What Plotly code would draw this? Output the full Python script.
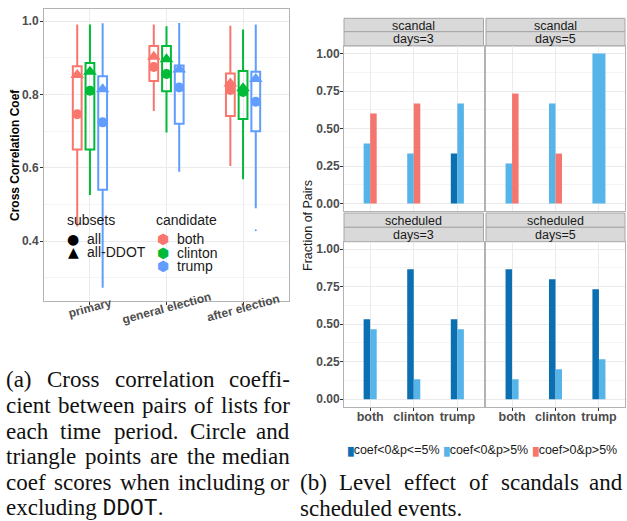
import plotly.graph_objects as go

W, H = 627, 521


def px(x):
    return x / W


def py(y):
    return 1 - y / H


# ---------------- (a) cross correlation data ----------------
periods = ["primary", "general election", "after election"]
candidates = ["both", "clinton", "trump"]
cand_colors = ["#F8766D", "#00BA38", "#619CFF"]
# rows: both, clinton, trump ; columns: primary, general election, after election
whisker_hi = [[0.991, 0.991, 0.987], [0.991, 0.986, 0.977], [0.994, 0.995, 0.991]]
box_hi = [[0.877, 0.932, 0.857], [0.886, 0.932, 0.864], [0.850, 0.879, 0.862]]
box_lo = [[0.650, 0.837, 0.741], [0.650, 0.809, 0.733], [0.540, 0.720, 0.700]]
whisker_lo = [[0.440, 0.755, 0.605], [0.526, 0.696, 0.569], [0.273, 0.589, 0.490]]
median_all = [[0.746, 0.875, 0.812], [0.810, 0.856, 0.807], [0.724, 0.819, 0.780]]
median_all_ddot = [[0.853, 0.903, 0.830], [0.862, 0.896, 0.817], [0.814, 0.868, 0.842]]
outlier_cand = [2]
outlier_period = [2]
outlier_value = [0.430]
a_yticks = [0.4, 0.6, 0.8, 1.0]
a_yticklabels = ["0.4", "0.6", "0.8", "1.0"]

# ---------------- (b) level effect data ----------------
b_cands = ["both", "clinton", "trump"]
b_groups = ["coef<0&p<=5%", "coef<0&p>5%", "coef>0&p>5%"]
b_colors = ["#0b6fb2", "#56b4e8", "#f4766e"]
facet_event = ["scandal", "scandal", "scheduled", "scheduled"]
facet_days = ["days=3", "days=5", "days=3", "days=5"]
scandal3_dark = [0.0, 0.0, 0.333]
scandal3_light = [0.400, 0.333, 0.667]
scandal3_red = [0.600, 0.667, 0.0]
scandal5_dark = [0.0, 0.0, 0.0]
scandal5_light = [0.267, 0.667, 1.000]
scandal5_red = [0.733, 0.333, 0.0]
sched3_dark = [0.533, 0.867, 0.533]
sched3_light = [0.467, 0.133, 0.467]
sched3_red = [0.0, 0.0, 0.0]
sched5_dark = [0.867, 0.800, 0.733]
sched5_light = [0.133, 0.200, 0.267]
sched5_red = [0.0, 0.0, 0.0]
b_yticks = [0.0, 0.25, 0.5, 0.75, 1.0]
b_yticklabels = ["0.00", "0.25", "0.50", "0.75", "1.00"]

fig = go.Figure()

SANS = "Liberation Sans, Arial, sans-serif"
SERIF = "Liberation Serif, Times New Roman, serif"
GRID = "#ebebeb"
MINOR = "#f4f4f4"
BORDER = "#b3b3b3"
TICKC = "#4d4d4d"

# ---------------- (a) boxes ----------------
DODGE = 0.166
for k, cand in enumerate(candidates):
    xs = [i + 1 + (k - 1) * DODGE for i in range(len(periods))]
    col = cand_colors[k]
    fig.add_trace(go.Box(
        x=xs, q1=box_lo[k], median=median_all[k], q3=box_hi[k],
        lowerfence=whisker_lo[k], upperfence=whisker_hi[k],
        width=0.115, whiskerwidth=0, fillcolor="rgba(255,255,255,0)",
        line=dict(color=col, width=2), boxpoints=False,
        xaxis="x", yaxis="y", showlegend=False, hoverinfo="skip"))
for k, cand in enumerate(candidates):
    xs = [i + 1 + (k - 1) * DODGE for i in range(len(periods))]
    col = cand_colors[k]
    fig.add_trace(go.Scatter(
        x=xs, y=median_all_ddot[k], mode="markers",
        marker=dict(symbol="triangle-up", size=12, color=col),
        xaxis="x", yaxis="y", showlegend=False, hoverinfo="skip"))
    fig.add_trace(go.Scatter(
        x=xs, y=median_all[k], mode="markers",
        marker=dict(symbol="circle", size=10, color=col),
        xaxis="x", yaxis="y", showlegend=False, hoverinfo="skip"))
fig.add_trace(go.Scatter(
    x=[p + 1 + (c - 1) * DODGE for c, p in zip(outlier_cand, outlier_period)],
    y=outlier_value, mode="markers",
    marker=dict(size=2, color=[cand_colors[c] for c in outlier_cand]),
    xaxis="x", yaxis="y", showlegend=False, hoverinfo="skip"))

# ---------------- (b) bars ----------------
b_values = [
    [scandal3_dark, scandal5_dark, sched3_dark, sched5_dark],
    [scandal3_light, scandal5_light, sched3_light, sched5_light],
    [scandal3_red, scandal5_red, sched3_red, sched5_red],
]
BARW = 0.3
for f in range(4):
    xs = [[], [], []]
    ys = [[], [], []]
    ws = [[], [], []]
    for i in range(len(b_cands)):
        present = [g for g in range(3) if b_values[g][f][i] > 0]
        n = len(present)
        for r, g in enumerate(present):
            xs[g].append(i + 1 - BARW / 2 + (r + 0.5) * BARW / n)
            ys[g].append(b_values[g][f][i])
            ws[g].append(BARW / n)
    for g in range(3):
        if xs[g]:
            fig.add_trace(go.Bar(
                x=xs[g], y=ys[g], width=ws[g], marker=dict(color=b_colors[g], line=dict(width=0)),
                xaxis=f"x{f + 2}", yaxis=f"y{f + 2}", showlegend=False, hoverinfo="skip"))

# ---------------- axes ----------------
layout = dict(
    width=W, height=H, margin=dict(l=0, r=0, t=0, b=0),
    paper_bgcolor="white", plot_bgcolor="white", barmode="overlay",
    showlegend=False, font=dict(family=SANS, color="#1a1a1a"),
)
layout["xaxis"] = dict(
    domain=[px(44), px(289)], range=[0.4, 3.6], tickvals=[1, 2, 3],
    showticklabels=False, ticks="outside", ticklen=3, tickcolor="#333333",
    showgrid=True, gridcolor=GRID, zeroline=False,
    showline=True, mirror=True, linecolor=BORDER, linewidth=1, anchor="y")
layout["yaxis"] = dict(
    domain=[py(301), py(9)], range=[0.237, 1.033], tickvals=a_yticks, ticktext=a_yticklabels,
    ticks="outside", ticklen=3, tickcolor="#333333", ticklabelstandoff=-1,
    tickfont=dict(size=12, color=TICKC, weight="bold"),
    showgrid=True, gridcolor=GRID, zeroline=False,
    minor=dict(tickvals=[0.3, 0.5, 0.7, 0.9], showgrid=True, gridcolor=MINOR, ticks=""),
    showline=True, mirror=True, linecolor=BORDER, linewidth=1, anchor="x")

cols = [(344, 483.5), (486, 625)]
rows = [(46, 211), (241.7, 406.7)]
strips = [((18.3, 31.7), (31.7, 46)), ((213, 227.3), (227.3, 241.7))]
for f in range(4):
    r, c = divmod(f, 2)
    xa = f"xaxis{f + 2}"
    ya = f"yaxis{f + 2}"
    layout[xa] = dict(
        domain=[px(cols[c][0]), px(cols[c][1])], range=[0.4, 3.6], tickvals=[1, 2, 3],
        ticktext=b_cands, showticklabels=(r == 1),
        tickfont=dict(size=12.5, color=TICKC, weight="bold"),
        ticks="outside" if r == 1 else "", ticklen=3, tickcolor="#333333",
        ticklabelstandoff=-5,
        showgrid=True, gridcolor=GRID, zeroline=False,
        showline=True, mirror=True, linecolor=BORDER, linewidth=1, anchor=f"y{f + 2}")
    layout[ya] = dict(
        domain=[py(rows[r][1]), py(rows[r][0])], range=[-0.05, 1.05],
        tickvals=b_yticks, ticktext=b_yticklabels, showticklabels=(c == 0),
        tickfont=dict(size=12, color=TICKC, weight="bold"),
        ticks="outside" if c == 0 else "", ticklen=3, tickcolor="#333333",
        ticklabelstandoff=-2,
        showgrid=True, gridcolor=GRID, zeroline=False,
        minor=dict(tickvals=[0.125, 0.375, 0.625, 0.875], showgrid=True, gridcolor=MINOR, ticks=""),
        showline=True, mirror=True, linecolor=BORDER, linewidth=1, anchor=f"x{f + 2}")

shapes = []
annotations = []
for f in range(4):
    r, c = divmod(f, 2)
    for s, label in enumerate([facet_event[f], facet_days[f]]):
        y0, y1 = strips[r][s]
        shapes.append(dict(type="rect", xref="paper", yref="paper",
                           x0=px(cols[c][0]), x1=px(cols[c][1]), y0=py(y1), y1=py(y0),
                           fillcolor="#d9d9d9", line=dict(color="#a6a6a6", width=1), layer="below"))
        annotations.append(dict(xref="paper", yref="paper", x=px((cols[c][0] + cols[c][1]) / 2),
                                y=py((y0 + y1) / 2 + 0.5), text=label, showarrow=False,
                                xanchor="center", yanchor="middle", borderpad=0,
                                font=dict(size=12.5, color="#1a1a1a", family=SANS)))

# (a) rotated period labels
for i, p in enumerate(periods):
    annotations.append(dict(xref="x", yref="paper", x=i + 1, y=py(308), text=p, showarrow=False,
                            textangle=-15, xanchor="center", yanchor="middle",
                            font=dict(size=12, color=TICKC, family=SANS, weight="bold")))
# axis titles
annotations.append(dict(xref="paper", yref="paper", x=px(15), y=py(155), text="Cross Correlation Coef",
                        textangle=-90, showarrow=False, xanchor="center", yanchor="middle",
                        font=dict(size=12, color="#000000", family=SANS, weight="bold")))
annotations.append(dict(xref="paper", yref="paper", x=px(308), y=py(226), text="Fraction of Pairs",
                        textangle=-90, showarrow=False, xanchor="center", yanchor="middle",
                        font=dict(size=12.5, color="#1a1a1a", family=SANS)))

# (a) legend
LF = dict(size=14, color="#1a1a1a", family=SANS)
annotations.append(dict(xref="paper", yref="paper", x=px(66), y=py(220), text="subsets",
                        showarrow=False, xanchor="left", yanchor="middle", font=LF, borderpad=0))
annotations.append(dict(xref="paper", yref="paper", x=px(155), y=py(220), text="candidate",
                        showarrow=False, xanchor="left", yanchor="middle", font=LF, borderpad=0))
subset_labels = ["all", "all-DDOT"]
subset_glyphs = ["●", "▲"]
for j, lab in enumerate(subset_labels):
    yy = 239 + j * 13
    annotations.append(dict(xref="paper", yref="paper", x=px(73), y=py(yy), text=subset_glyphs[j],
                            showarrow=False, xanchor="center", yanchor="middle", borderpad=0,
                            font=dict(size=14, color="#000000", family="DejaVu Sans")))
    annotations.append(dict(xref="paper", yref="paper", x=px(86), y=py(yy), text=lab,
                            showarrow=False, xanchor="left", yanchor="middle", font=LF, borderpad=0))
for k, cand in enumerate(candidates):
    yy = 239 + k * 13.6
    annotations.append(dict(xref="paper", yref="paper", x=px(162.5), y=py(yy), text="⬢",
                            showarrow=False, xanchor="center", yanchor="middle", borderpad=0,
                            font=dict(size=14, color=cand_colors[k], family="DejaVu Sans")))
    annotations.append(dict(xref="paper", yref="paper", x=px(176), y=py(yy), text=cand,
                            showarrow=False, xanchor="left", yanchor="middle", font=LF, borderpad=0))

# (b) legend
legend_x = [347, 443, 532]
for g, lab in enumerate(b_groups):
    txt = lab.replace("&", "&amp;").replace("<", "&lt;").replace(">", "&gt;")
    annotations.append(dict(xref="paper", yref="paper", x=px(legend_x[g]), y=py(450),
                            text=f"<span style='color:{b_colors[g]};font-size:8px'>█</span>{txt}",
                            showarrow=False, xanchor="left", yanchor="middle", borderpad=0,
                            font=dict(size=12.5, color="#1a1a1a", family=SANS)))

# ---------------- captions ----------------
TIMES = {
    "a": 444, "b": 500, "c": 444, "d": 500, "e": 444, "f": 333, "g": 500, "h": 500, "i": 278,
    "j": 278, "k": 500, "l": 278, "m": 778, "n": 500, "o": 500, "p": 500, "q": 500, "r": 333,
    "s": 389, "t": 278, "u": 500, "v": 500, "w": 722, "x": 500, "y": 500, "z": 444,
    "C": 667, "L": 611, "D": 722, "O": 722, "T": 611, "(": 333, ")": 333, ".": 250, "-": 333,
    " ": 250,
}
CAP_FS = 23


def word_w(w):
    return sum(TIMES.get(ch, 500) for ch in w) / 1000 * CAP_FS


def caption_line(text, x0, x1, baseline, justify=True):
    yc = py(baseline - 0.34 * CAP_FS)
    font = dict(size=CAP_FS, color="#111111", family=SERIF)
    if not justify:
        annotations.append(dict(xref="paper", yref="paper", x=px(x0), y=yc, text=text,
                                showarrow=False, xanchor="left", yanchor="middle",
                                borderpad=0, font=font))
        return
    words = text.split(" ")
    widths = [word_w(w) for w in words]
    gap = (x1 - x0 - sum(widths)) / (len(words) - 1)
    x = x0
    for i, w in enumerate(words):
        last = i == len(words) - 1
        annotations.append(dict(xref="paper", yref="paper", x=px(x1 if last else x), y=yc, text=w,
                                showarrow=False, xanchor="right" if last else "left",
                                yanchor="middle", borderpad=0, font=font))
        x += widths[i] + gap


cap_a = [
    "(a) Cross correlation coeffi-",
    "cient between pairs of lists for",
    "each time period. Circle and",
    "triangle points are the median",
    "coef scores when including or",
]
cap_a_base = [387, 413, 439, 464.5, 490.5]
for t, b in zip(cap_a, cap_a_base):
    caption_line(t, 5, 291, b)
caption_line("excluding <span style=\"font-family:'Liberation Mono','Courier New',monospace;"
             "font-weight:normal\">DDOT</span>.", 5, 291, 516, justify=False)
caption_line("(b) Level effect of scandals and", 299, 624, 490.5)
caption_line("scheduled events.", 299, 624, 516, justify=False)

layout["shapes"] = shapes
layout["annotations"] = annotations
fig.update_layout(**layout)
fig.write_html(
    "out.html",
    config={"displayModeBar": False, "staticPlot": True},
    post_script="document.body.style.margin='0';document.body.style.padding='0';"
                "document.body.style.overflow='hidden';",
)
